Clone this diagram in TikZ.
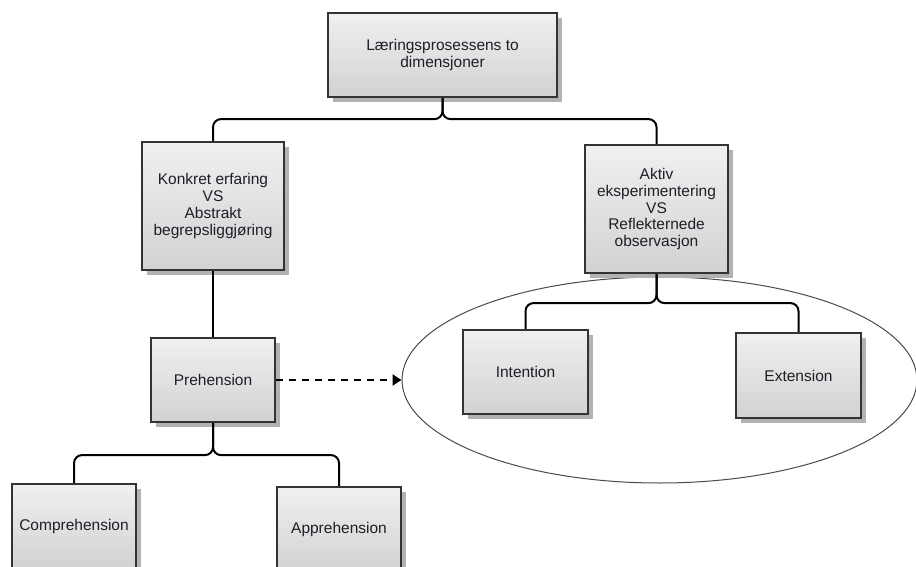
\documentclass[tikz,border=0pt]{standalone}
\usepackage{fontspec}
\setmainfont{Liberation Sans}
\usetikzlibrary{shapes.geometric,arrows.meta,shadows}

\definecolor{boxline}{HTML}{333333}
\definecolor{boxtop}{HTML}{F0F0F0}
\definecolor{boxbottom}{HTML}{D2D2D2}
\definecolor{shadowgray}{HTML}{B2B2B2}
\definecolor{textgray}{HTML}{1E1E28}
\definecolor{ringgray}{HTML}{4A4A4A}

\tikzset{
  conceptbox/.style={
    rectangle, draw=boxline, line width=2.2pt,
    top color=boxtop, bottom color=boxbottom,
    drop shadow={shadow xshift=5pt, shadow yshift=-5pt, fill=shadowgray, opacity=1},
    inner sep=0pt, align=center, text=textgray,
    font=\fontsize{15.5}{16.75}\selectfont
  },
  link/.style={draw=black, line width=2pt, rounded corners=8pt},
  hint/.style={draw=black, line width=2.4pt, dash pattern=on 6.5pt off 6.5pt,
    -{Triangle[length=9pt,width=11pt]}},
  group/.style={ellipse, draw=ringgray, line width=1pt, inner sep=0pt}
}

\begin{document}
\begin{tikzpicture}[x=1pt, y=-1pt]
  \useasboundingbox (0,0) rectangle (916,567);

  % enclosing ellipse for the two sub-concepts
  \node[group, minimum width=515pt, minimum height=206pt] (grp) at (659.5,380) {};

  % concept boxes
  \node[conceptbox, minimum width=229pt, minimum height=84pt] (top) at (442.5,55)
    {Læringsprosessens to\\dimensjoner};
  \node[conceptbox, minimum width=142pt, minimum height=128pt] (konk) at (213,206)
    {Konkret erfaring\\VS\\Abstrakt\\begrepsliggjøring};
  \node[conceptbox, minimum width=143pt, minimum height=128pt] (aktiv) at (656.5,209)
    {Aktiv\\eksperimentering\\VS\\Reflekternede\\observasjon};
  \node[conceptbox, minimum width=124pt, minimum height=84pt] (preh) at (213,380)
    {Prehension};
  \node[conceptbox, minimum width=125pt, minimum height=84pt] (inten) at (525.5,372)
    {Intention};
  \node[conceptbox, minimum width=125pt, minimum height=85pt] (exten) at (798.5,375.5)
    {Extension};
  \node[conceptbox, minimum width=124pt, minimum height=84pt] (compr) at (74,526)
    {Comprehension};
  \node[conceptbox, minimum width=124pt, minimum height=84pt] (appr) at (339,529)
    {Apprehension};

  % bracket connectors
  \draw[link] (top.south) -- ++(0,21) -| (konk.north);
  \draw[link] (top.south) -- ++(0,21) -| (aktiv.north);
  \draw[link] (konk.south) -- (preh.north);
  \draw[link] (aktiv.south) -- ++(0,29) -| (inten.north);
  \draw[link] (aktiv.south) -- ++(0,29) -| (exten.north);
  \draw[link] (preh.south) -- ++(0,32) -| (compr.north);
  \draw[link] (preh.south) -- ++(0,32) -| (appr.north);

  % dashed hint arrow
  \draw[hint] (preh.east) -- (grp.west);
\end{tikzpicture}
\end{document}
